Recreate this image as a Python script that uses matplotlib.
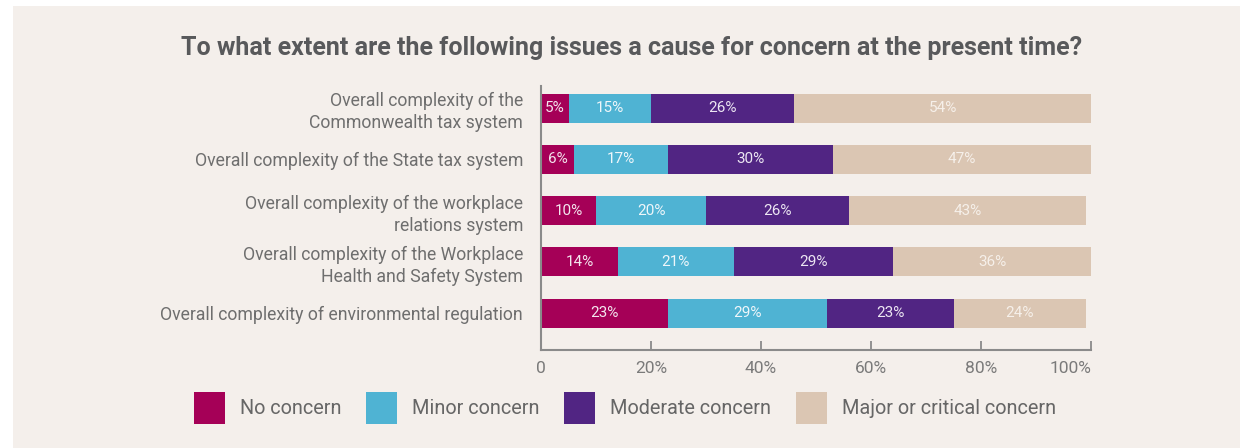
import matplotlib
matplotlib.use("Agg")
import matplotlib.pyplot as plt
import numpy as np

categories = ["Overall complexity of the\nCommonwealth tax system",
              "Overall complexity of the State tax system",
              "Overall complexity of the workplace\nrelations system",
              "Overall complexity of the Workplace\nHealth and Safety System",
              "Overall complexity of environmental regulation"]
series_names = ["No concern", "Minor concern", "Moderate concern", "Major or critical concern"]
no_concern = [5, 6, 10, 14, 23]
minor_concern = [15, 17, 20, 21, 29]
moderate_concern = [26, 30, 26, 29, 23]
major_concern = [54, 47, 43, 36, 24]
x_ticks = [0, 20, 40, 60, 80, 100]
x_tick_labels = ["0", "20%", "40%", "60%", "80%", "100%"]

colors = ["#a50057", "#4fb3d3", "#512583", "#dbc6b3"]
text_colors = ["#f3e6ee", "#eef6fa", "#ece6f2", "#f6f0ea"]
bg = "#f4efeb"
label_grey = "#6e6e6e"

plt.rcParams['font.family'] = ['Roboto', 'DejaVu Sans']

fig = plt.figure(figsize=(12.4, 4.48), dpi=100)
fig.patch.set_facecolor("white")
# beige panel behind everything
fig.add_artist(plt.Rectangle((13 / 1240, 0), 1, 1 - 6 / 448, transform=fig.transFigure,
                             facecolor=bg, edgecolor="none", zorder=0))

ax = fig.add_axes([541 / 1240, 1 - 350 / 448, 550 / 1240, 264 / 448])
ax.patch.set_alpha(0)

y = np.arange(len(categories))
left = np.zeros(len(categories))
for name, vals, c, tc in zip(series_names,
                             [no_concern, minor_concern, moderate_concern, major_concern],
                             colors, text_colors):
    vals = np.array(vals, dtype=float)
    ax.barh(y, vals, left=left, height=0.566, color=c, label=name, edgecolor="none")
    for yi, l, v in zip(y, left, vals):
        ax.text(l + v / 2, yi, f"{int(v)}%", ha="center", va="center",
                color=tc, fontsize=11)
    left += vals

ax.set_xlim(0, 100)
ax.set_ylim(4.72, -0.43)
ax.set_yticks(y)
ax.set_yticklabels(categories, fontsize=12.7, color=label_grey, linespacing=1.3)
ax.tick_params(axis="y", length=0, pad=13)
ax.set_xticks(x_ticks)
ax.set_xticklabels(x_tick_labels, fontsize=12.5, color="#7a7a7a")
ax.get_xticklabels()[-1].set_horizontalalignment("right")
ax.tick_params(axis="x", direction="in", length=6.5, width=1.3, color="#8a8a8a", pad=8)

for s in ["top", "right"]:
    ax.spines[s].set_visible(False)
for s in ["left", "bottom"]:
    ax.spines[s].set_color("#8a8a8a")
    ax.spines[s].set_linewidth(1.5)

fig.text(632 / 1240, 1 - 48 / 448,
         "To what extent are the following issues a cause for concern at the present time?",
         ha="center", va="center", fontsize=18, fontweight="bold", color="#58595b")

# square legend swatches
fig.legend(loc="center", bbox_to_anchor=(625 / 1240, 1 - 408 / 448), ncol=4,
           frameon=False, fontsize=14.3, handlelength=1.55, handleheight=2.1,
           handletextpad=0.75, columnspacing=1.25, labelcolor="#666666")

fig.savefig("out.png", dpi=100, facecolor=fig.get_facecolor())
